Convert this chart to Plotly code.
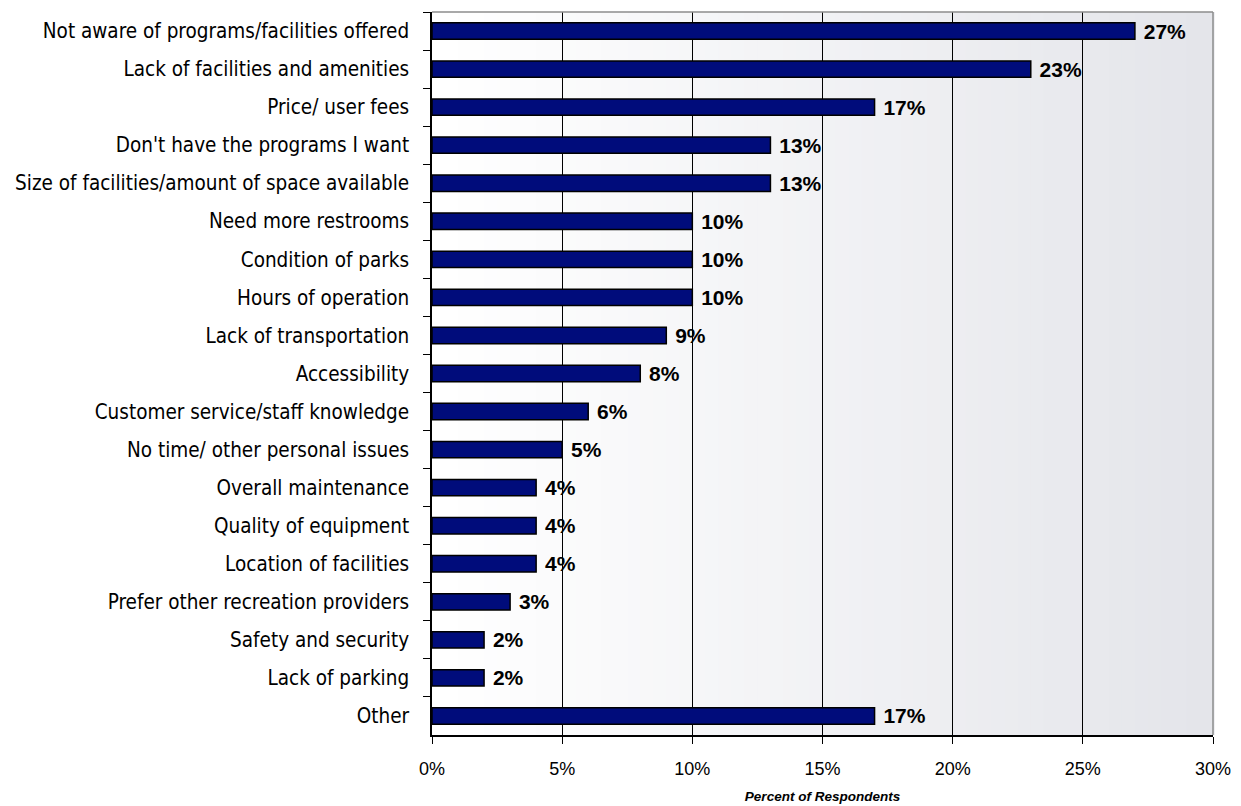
import plotly.graph_objects as go

categories = [
    "Not aware of programs/facilities offered",
    "Lack of facilities and amenities",
    "Price/ user fees",
    "Don't have the programs I want",
    "Size of facilities/amount of space available",
    "Need more restrooms",
    "Condition of parks",
    "Hours of operation",
    "Lack of transportation",
    "Accessibility",
    "Customer service/staff knowledge",
    "No time/ other personal issues",
    "Overall maintenance",
    "Quality of equipment",
    "Location of facilities",
    "Prefer other recreation providers",
    "Safety and security",
    "Lack of parking",
    "Other",
]
values = [27, 23, 17, 13, 13, 10, 10, 10, 9, 8, 6, 5, 4, 4, 4, 3, 2, 2, 17]
x_ticks = [0, 5, 10, 15, 20, 25, 30]
x_tick_labels = ["0%", "5%", "10%", "15%", "20%", "25%", "30%"]

FONT = "DejaVu Sans Condensed, Liberation Sans, Arial, sans-serif"
FONT2 = "Liberation Sans, Arial, sans-serif"

fig = go.Figure()
fig.add_trace(go.Bar(
    y=categories,
    x=values,
    orientation="h",
    width=0.43,
    marker=dict(color="#000C7B", line=dict(color="#000000", width=1.5)),
    text=[f" {v}%" for v in values],
    textposition="outside",
    constraintext="none",
    cliponaxis=False,
    textfont=dict(family=FONT2, size=21, color="#000000", weight="bold"),
    hoverinfo="skip",
))

# background gradient (white -> light gray)
shapes = []
n = 60
c0 = (255, 255, 255)
c1 = (228, 229, 234)
for i in range(n):
    t = i / (n - 1)
    col = tuple(round(c0[k] + (c1[k] - c0[k]) * t) for k in range(3))
    shapes.append(dict(
        type="rect", xref="x domain", yref="y domain",
        x0=i / n, x1=(i + 1) / n + 0.002, y0=0, y1=1,
        fillcolor="rgb(%d,%d,%d)" % col, line=dict(width=0), layer="below",
    ))
# top and right gray borders
shapes.append(dict(type="line", xref="x domain", yref="y domain", x0=0, x1=1, y0=1, y1=1,
                   line=dict(color="#8c8c8c", width=1.5), layer="above"))
shapes.append(dict(type="line", xref="x domain", yref="y domain", x0=1, x1=1, y0=0, y1=1,
                   line=dict(color="#8c8c8c", width=1.5), layer="above"))

fig.update_layout(
    width=1233, height=798,
    margin=dict(l=424, r=28, t=4, b=71, autoexpand=False),
    paper_bgcolor="white",
    plot_bgcolor="white",
    showlegend=False,
    shapes=shapes,
    bargap=0.5,
    xaxis=dict(
        range=[0, 30],
        tickvals=x_ticks,
        ticktext=x_tick_labels,
        showgrid=True,
        gridcolor="#000000",
        gridwidth=1,
        zeroline=False,
        showline=True,
        linecolor="#000000",
        linewidth=1.5,
        ticks="outside",
        ticklen=7,
        tickcolor="#000000",
        ticklabelstandoff=10,
        tickfont=dict(family=FONT2, size=18, color="#000000"),
        title=dict(text="<b><i>Percent of Respondents</i></b>",
                   font=dict(family=FONT2, size=13.5, color="#000000"),
                   standoff=13),
        fixedrange=True,
    ),
    yaxis=dict(
        autorange="reversed",
        type="category",
        showgrid=False,
        showline=True,
        linecolor="#000000",
        linewidth=1.5,
        ticks="outside",
        tickson="boundaries",
        ticklen=7,
        tickcolor="#000000",
        ticklabelstandoff=17,
        tickfont=dict(family=FONT, size=20.5, color="#000000"),
        fixedrange=True,
    ),
)

fig.write_html("out.html")
